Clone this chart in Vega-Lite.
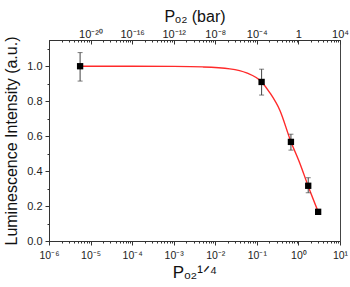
{
  "$schema": "https://vega.github.io/schema/vega-lite/v6.json",
  "width": 291,
  "height": 201,
  "autosize": {"type": "none"},
  "padding": {"left": 49, "top": 40, "right": 10, "bottom": 46},
  "background": "white",
  "config": {
    "font": "Liberation Sans",
    "view": {"stroke": "#444", "strokeWidth": 1},
    "axis": {"grid": false, "domainColor": "#333", "tickColor": "#333", "labelColor": "#222", "titleColor": "#111", "labelFontSize": 10.5, "domainWidth": 1, "tickWidth": 1}
  },
  "datasets": {
    "curve": [
      {"x": 5.6e-6, "y": 1.0},
      {"x": 1e-4, "y": 1.0},
      {"x": 1e-3, "y": 0.999},
      {"x": 5e-3, "y": 0.996},
      {"x": 0.0224, "y": 0.985},
      {"x": 0.0565, "y": 0.962},
      {"x": 0.13, "y": 0.91},
      {"x": 0.206, "y": 0.848},
      {"x": 0.357, "y": 0.748},
      {"x": 0.646, "y": 0.574},
      {"x": 1.08, "y": 0.445},
      {"x": 1.71, "y": 0.315},
      {"x": 2.98, "y": 0.168}
    ],
    "pts": [
      {"x": 5.6e-6, "y": 1.0, "lo": 0.915, "hi": 1.078},
      {"x": 0.13, "y": 0.91, "lo": 0.835, "hi": 0.983},
      {"x": 0.66, "y": 0.567, "lo": 0.52, "hi": 0.611},
      {"x": 1.72, "y": 0.316, "lo": 0.276, "hi": 0.362},
      {"x": 2.98, "y": 0.167, "lo": 0.16, "hi": 0.175}
    ]
  },
  "layer": [
    {
      "data": {"name": "curve"},
      "mark": {"type": "line", "color": "#ff2a2a", "strokeWidth": 1.4, "interpolate": "monotone"},
      "encoding": {
        "x": {
          "field": "x", "type": "quantitative",
          "scale": {"type": "log", "domain": [1e-6, 10], "nice": false},
          "axis": {
            "orient": "bottom",
            "values": [1e-6,2e-6,3e-6,4e-6,5e-6,6e-6,7e-6,8e-6,9e-6,1e-5,2e-5,3e-5,4e-5,5e-5,6e-5,7e-5,8e-5,9e-5,1e-4,2e-4,3e-4,4e-4,5e-4,6e-4,7e-4,8e-4,9e-4,1e-3,2e-3,3e-3,4e-3,5e-3,6e-3,7e-3,8e-3,9e-3,0.01,0.02,0.03,0.04,0.05,0.06,0.07,0.08,0.09,0.1,0.2,0.3,0.4,0.5,0.6,0.7,0.8,0.9,1,2,3,4,5,6,7,8,9,10],
            "labelExpr": "abs(log(datum.value)/LN10 - round(log(datum.value)/LN10)) < 0.001 ? ['10⁻⁶','10⁻⁵','10⁻⁴','10⁻³','10⁻²','10⁻¹','10⁰','10¹'][round(log(datum.value)/LN10)+6] : ''",
            "tickSize": {"condition": {"test": "abs(log(datum.value)/LN10 - round(log(datum.value)/LN10)) < 0.001", "value": 4}, "value": 2},
            "labelPadding": 5,
            "labelFlush": false,
            "labelOverlap": false,
            "title": "Pₒ₂¹ᐟ⁴",
            "titleFontSize": 17,
            "titleFontWeight": "normal",
            "titlePadding": 4
          }
        },
        "y": {
          "field": "y", "type": "quantitative",
          "scale": {"domain": [0, 1.15], "nice": false, "zero": true},
          "axis": {
            "values": [0,0.1,0.2,0.3,0.4,0.5,0.6,0.7,0.8,0.9,1.0,1.1],
            "labelExpr": "round(datum.value*10) % 2 == 0 ? format(datum.value, '.1f') : ''",
            "tickSize": {"condition": {"test": "round(datum.value*10) % 2 == 0", "value": 4}, "value": 2},
            "labelPadding": 3,
            "labelFontSize": 11,
            "labelOverlap": false,
            "title": "Luminescence Intensity (a.u.)",
            "titleFontSize": 16,
            "titleFontWeight": "normal",
            "titlePadding": 7
          }
        }
      }
    },
    {
      "data": {"name": "pts"},
      "mark": {"type": "rule", "color": "#444", "strokeWidth": 1},
      "encoding": {
        "x": {"field": "x", "type": "quantitative", "axis": null},
        "y": {"field": "lo", "type": "quantitative", "axis": null},
        "y2": {"field": "hi"}
      }
    },
    {
      "data": {"name": "pts"},
      "mark": {"type": "tick", "orient": "horizontal", "color": "#444", "thickness": 1, "size": 5},
      "encoding": {
        "x": {"field": "x", "type": "quantitative", "axis": null},
        "y": {"field": "lo", "type": "quantitative", "axis": null}
      }
    },
    {
      "data": {"name": "pts"},
      "mark": {"type": "tick", "orient": "horizontal", "color": "#444", "thickness": 1, "size": 5},
      "encoding": {
        "x": {"field": "x", "type": "quantitative", "axis": null},
        "y": {"field": "hi", "type": "quantitative", "axis": null}
      }
    },
    {
      "data": {"name": "pts"},
      "mark": {"type": "square", "color": "#000", "filled": true, "opacity": 1, "size": 40},
      "encoding": {
        "x": {
          "field": "x", "type": "quantitative",
          "axis": {
            "orient": "top",
            "values": [1e-6,2e-6,3e-6,4e-6,5e-6,6e-6,7e-6,8e-6,9e-6,1e-5,2e-5,3e-5,4e-5,5e-5,6e-5,7e-5,8e-5,9e-5,1e-4,2e-4,3e-4,4e-4,5e-4,6e-4,7e-4,8e-4,9e-4,1e-3,2e-3,3e-3,4e-3,5e-3,6e-3,7e-3,8e-3,9e-3,0.01,0.02,0.03,0.04,0.05,0.06,0.07,0.08,0.09,0.1,0.2,0.3,0.4,0.5,0.6,0.7,0.8,0.9,1,2,3,4,5,6,7,8,9,10],
            "labelExpr": "abs(log(datum.value)/LN10 - round(log(datum.value)/LN10)) < 0.001 ? ['','10⁻²⁰','10⁻¹⁶','10⁻¹²','10⁻⁸','10⁻⁴','1','10⁴'][round(log(datum.value)/LN10)+6] : ''",
            "tickSize": {"condition": {"test": "abs(log(datum.value)/LN10 - round(log(datum.value)/LN10)) < 0.001", "value": -4}, "value": -2},
            "labelPadding": 5,
            "labelFontSize": 11,
            "labelFlush": false,
            "labelOverlap": false,
            "title": "Pₒ₂ (bar)",
            "titleFontSize": 16,
            "titleFontWeight": "normal",
            "titlePadding": 2
          }
        },
        "y": {"field": "y", "type": "quantitative", "axis": null}
      }
    }
  ],
  "resolve": {"axis": {"x": "independent", "y": "independent"}}
}
